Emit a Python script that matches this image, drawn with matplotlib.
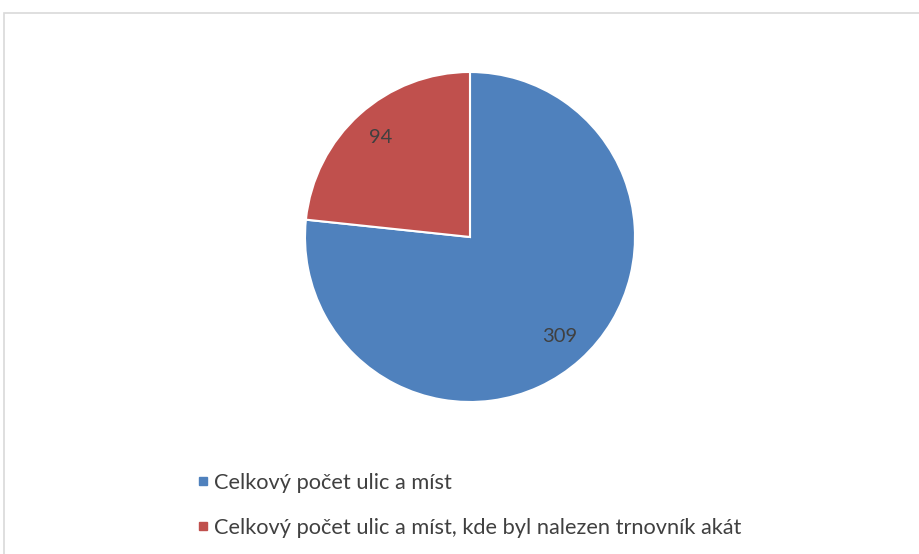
import matplotlib
matplotlib.use("Agg")
import matplotlib.pyplot as plt
from matplotlib.lines import Line2D
from matplotlib.patches import Rectangle

# data
labels = ["Celkový počet ulic a míst",
          "Celkový počet ulic a míst, kde byl nalezen trnovník akát"]
values = [309, 94]
colors = ["#4F81BD", "#C0504D"]
txt = "#404040"

plt.rcParams['font.family'] = ['Lato', 'DejaVu Sans']

W, H = 920, 554
fig = plt.figure(figsize=(W / 100, H / 100), dpi=100)
ax = fig.add_axes([0, 0, 1, 1])
ax.set_xlim(0, W)
ax.set_ylim(0, H)
ax.set_aspect('equal')
ax.axis('off')

# chart frame
fig.patches.append(Rectangle((4 / W, -0.1), 1.2, 1 - 13 / H + 0.1,
                             transform=fig.transFigure, fill=False,
                             edgecolor="#D9D9D9", linewidth=1.2))

total = sum(values)
wedges, texts, autotexts = ax.pie(
    values, colors=colors, startangle=90, counterclock=False,
    center=(470, H - 237), radius=165, explode=[0, 0.02],
    autopct=lambda p: "%d" % round(p * total / 100.0), pctdistance=0.81,
    wedgeprops=dict(edgecolor="white", linewidth=1.5),
    textprops=dict(color=txt, fontsize=14.5))
ax.set_xlim(0, W)
ax.set_ylim(0, H)

handles = [Line2D([], [], marker='s', linestyle='none', markersize=6,
                  markerfacecolor=c, markeredgecolor=c) for c in colors]
fig.legend(handles, labels, loc='upper left',
           bbox_to_anchor=(187 / W, 1 - 462 / H), frameon=False,
           fontsize=15.7, labelcolor=txt, handlelength=0.45, handletextpad=0.3,
           labelspacing=1.15, borderpad=0)

fig.savefig("out.png", dpi=100)
